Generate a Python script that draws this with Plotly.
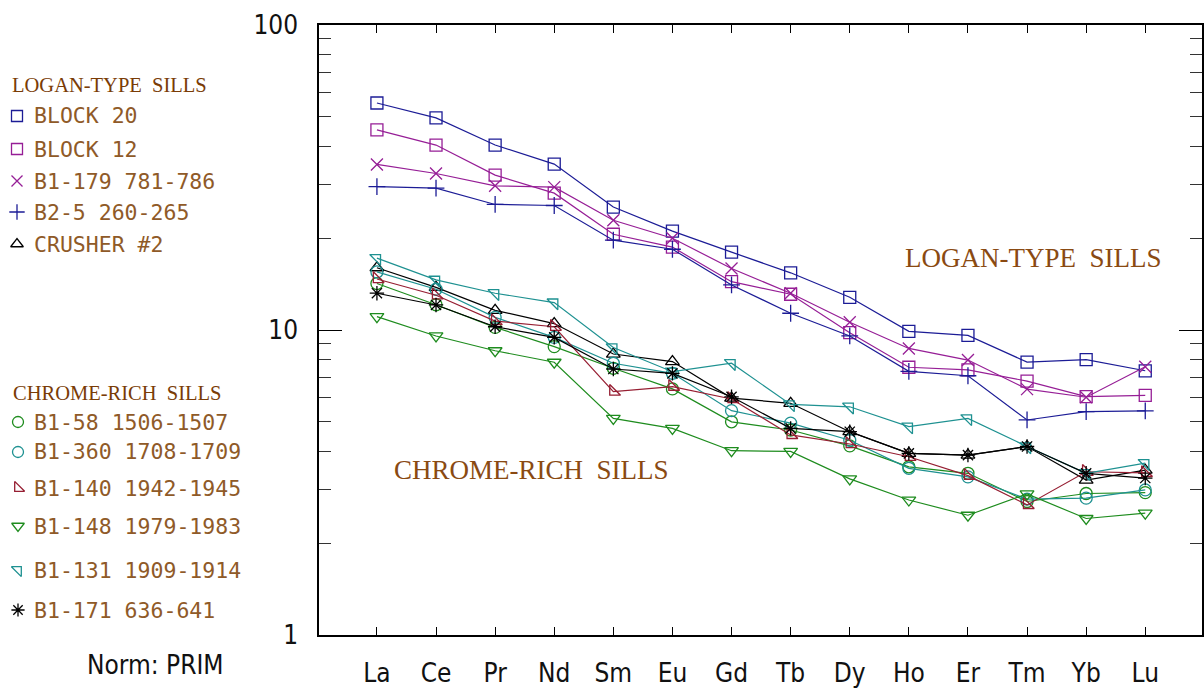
import plotly.graph_objects as go

# ---------------- data (primitive-mantle normalised REE) ----------------
elements = ["La", "Ce", "Pr", "Nd", "Sm", "Eu", "Gd", "Tb", "Dy", "Ho", "Er", "Tm", "Yb", "Lu"]

block20 = [55.5, 49.6, 40.4, 35.0, 25.3, 21.1, 18.0, 15.4, 12.8, 9.9, 9.6, 7.85, 8.0, 7.35]
block12 = [45.3, 40.4, 32.2, 28.1, 20.6, 18.7, 14.4, 13.1, 9.8, 7.55, 7.4, 6.8, 6.05, 6.1]
b1_179 = [34.9, 32.6, 29.7, 29.4, 22.9, 20.0, 15.9, 13.2, 10.6, 8.7, 7.97, 6.4, 6.02, 7.58]
b2_5 = [29.5, 29.2, 25.8, 25.6, 19.7, 18.4, 14.05, 11.35, 9.56, 7.32, 7.08, 5.07, 5.4, 5.43]
crusher2 = [16.0, 13.8, 11.6, 10.5, 8.34, 7.88, 5.98, 5.75, 4.64, 3.94, 3.89, 4.15, 3.22, 3.47]

b1_58 = [14.2, 12.1, 10.2, 8.82, 7.49, 6.41, 5.0, 4.7, 4.17, 3.56, 3.39, 2.74, 2.91, 2.93]
b1_360 = [15.5, 13.6, 11.0, 9.46, 7.78, 7.21, 5.44, 4.95, 4.35, 3.52, 3.30, 2.79, 2.81, 2.99]
b1_140 = [14.7, 13.0, 10.7, 10.25, 6.28, 6.52, 5.94, 4.53, 4.23, 3.84, 3.33, 2.67, 3.43, 3.40]
b1_148 = [11.06, 9.56, 8.55, 7.84, 5.13, 4.76, 4.02, 4.0, 3.25, 2.77, 2.47, 2.90, 2.41, 2.51]
b1_131 = [17.2, 14.6, 13.2, 12.3, 8.76, 7.3, 7.78, 5.7, 5.6, 4.82, 5.13, 4.15, 3.39, 3.66]
b1_171 = [13.2, 12.08, 10.25, 9.46, 7.45, 7.21, 6.04, 4.76, 4.64, 3.94, 3.89, 4.15, 3.39, 3.27]

logan_names = ["BLOCK 20", "BLOCK 12", "B1-179 781-786", "B2-5 260-265", "CRUSHER #2"]
chrome_names = ["B1-58 1506-1507", "B1-360 1708-1709", "B1-140 1942-1945",
                "B1-148 1979-1983", "B1-131 1909-1914", "B1-171 636-641"]

y_tickvals = [1, 10, 100]
y_ticktext = ["1", "10", "100"]

# ---------------- styles ----------------
NAVY = "#1c1c96"
PURPLE = "#961e96"
BLACK = "#000000"
GREEN = "#1e8c1e"
TEAL = "#1e9191"
MAROON = "#961e32"
BROWN_T = "#7a3c06"
BROWN_L = "#8f5a28"

logan_series = [
    (block20, NAVY, "square-open"),
    (block12, PURPLE, "square-open"),
    (b1_179, PURPLE, "x-thin-open"),
    (b2_5, NAVY, "cross-thin-open"),
    (crusher2, BLACK, "triangle-up-open"),
]
chrome_series = [
    (b1_58, GREEN, "circle-open"),
    (b1_360, TEAL, "circle-open"),
    (b1_140, MAROON, "triangle-sw-open"),
    (b1_148, GREEN, "triangle-down-open"),
    (b1_131, TEAL, "triangle-ne-open"),
    (b1_171, BLACK, "asterisk-open"),
]

W, H = 1204, 692
PLOT_L, PLOT_R, PLOT_T, PLOT_B = 319, 1202, 25, 635


def fx(p):
    return p / W


def fy(p):
    return 1 - p / H


fig = go.Figure()

# legend-key subplot (xy) spanning the whole figure, drawn first
logan_item_y = [116, 149, 181, 212, 244]
chrome_item_y = [422, 452, 488, 526, 570, 610]
legend_font = dict(family="DejaVu Sans Mono, Liberation Mono, monospace", size=21.5, color=BROWN_L)
title_font = dict(family="Liberation Serif, DejaVu Serif, serif", size=20.5, color=BROWN_T)

annotations = []
for series, names, ys, mx in [(logan_series, logan_names, logan_item_y, 17),
                              (chrome_series, chrome_names, chrome_item_y, 18)]:
    for (vals, col, sym), name, yy in zip(series, names, ys):
        fig.add_trace(go.Scatter(
            x=[mx], y=[yy], mode="markers", showlegend=False, hoverinfo="skip",
            marker=dict(symbol=sym, size=11, color=col, line=dict(color=col, width=1.3)),
            xaxis="x", yaxis="y",
        ))
        annotations.append(dict(x=fx(32), y=fy(yy), xref="paper", yref="paper",
                                text=name, showarrow=False, xanchor="left", yanchor="middle",
                                font=legend_font))

# main data subplot (x2y2)
xs = list(range(len(elements)))
for (vals, col, sym), name in zip(logan_series + chrome_series, logan_names + chrome_names):
    fig.add_trace(go.Scatter(
        x=xs, y=vals, mode="lines+markers", name=name, showlegend=False,
        line=dict(color=col, width=1.2),
        marker=dict(symbol=sym, size=12, color=col, line=dict(color=col, width=1.3)),
        xaxis="x2", yaxis="y2",
    ))

annotations.append(dict(x=fx(10), y=fy(85), xref="paper", yref="paper", text="LOGAN-TYPE  SILLS",
                        showarrow=False, xanchor="left", yanchor="middle", font=title_font))
annotations.append(dict(x=fx(11), y=fy(393), xref="paper", yref="paper", text="CHROME-RICH  SILLS",
                        showarrow=False, xanchor="left", yanchor="middle", font=title_font))

big_font = dict(family="Liberation Serif, DejaVu Serif, serif", size=27, color="#8a4a12")
annotations.append(dict(x=fx(1033), y=fy(258), xref="paper", yref="paper", text="LOGAN-TYPE  SILLS",
                        showarrow=False, xanchor="center", yanchor="middle", font=big_font))
annotations.append(dict(x=fx(531), y=fy(470), xref="paper", yref="paper", text="CHROME-RICH  SILLS",
                        showarrow=False, xanchor="center", yanchor="middle", font=big_font))

tick_font = dict(family="Liberation Sans Narrow, DejaVu Sans Condensed, Arial Narrow, sans-serif",
                 size=26, color="#111111")
annotations.append(dict(x=fx(155), y=fy(665), xref="paper", yref="paper", text="Norm: PRIM",
                        showarrow=False, xanchor="center", yanchor="middle", font=tick_font))

fig.update_layout(
    template="none",
    width=W, height=H, autosize=False,
    margin=dict(l=0, r=0, t=0, b=0, pad=0),
    paper_bgcolor="white", plot_bgcolor="rgba(0,0,0,0)",
    showlegend=False,
    font=dict(family="Liberation Sans Narrow, DejaVu Sans Condensed, sans-serif", color="black"),
    xaxis=dict(domain=[0, 1], range=[0, W], visible=False, anchor="y",
               fixedrange=True, automargin=False),
    yaxis=dict(domain=[0, 1], range=[H, 0], visible=False, anchor="x",
               fixedrange=True, automargin=False),
    xaxis2=dict(
        domain=[fx(PLOT_L), fx(PLOT_R)], anchor="y2", automargin=False,
        range=[-0.98, 13.96], tickmode="array", tickvals=xs, ticktext=elements,
        ticks="inside", ticklen=8, tickcolor="black", tickwidth=1,
        showline=True, linecolor="black", linewidth=1.5, mirror="allticks",
        showgrid=False, zeroline=False, tickfont=tick_font, ticklabelstandoff=14,
    ),
    yaxis2=dict(
        domain=[fy(PLOT_B), fy(PLOT_T)], anchor="x2", automargin=False,
        type="log", range=[0, 2], tickmode="array", tickvals=y_tickvals, ticktext=y_ticktext,
        ticks="inside", ticklen=23, tickcolor="black", tickwidth=1,
        minor=dict(dtick="D1", ticks="inside", ticklen=12,
                   tickcolor="#333333", tickwidth=1, showgrid=False),
        showline=True, linecolor="black", linewidth=1.5, mirror="allticks",
        showgrid=False, zeroline=False, tickfont=tick_font, ticklabelstandoff=14,
    ),
    annotations=annotations,
)

fig.write_html("out.html")
